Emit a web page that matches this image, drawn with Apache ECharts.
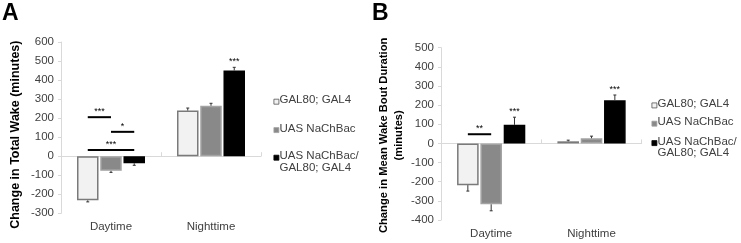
<!DOCTYPE html>
<html>
<head>
<meta charset="utf-8">
<style>
  html, body { margin: 0; padding: 0; background: #fff; }
  #chart { width: 741px; height: 243px; }
</style>
<script src="https://cdn.jsdelivr.net/npm/echarts@6/dist/echarts.min.js"></script>
</head>
<body>
<div id="chart"></div>
<script>
// categories and series
var categories = ['Daytime', 'Nighttime'];
var seriesNames = ['GAL80; GAL4', 'UAS NaChBac', 'UAS NaChBac/\nGAL80; GAL4'];

// A: change in total wake (minutes)
var wakeGal = [-232, 240];
var wakeNa = [-77, 265];
var wakeBoth = [-37, 450];
var wakeGalErr = [8, 13];
var wakeNaErr = [8, 13];
var wakeBothErr = [11, 17];
var wakeStars = [['', ''], ['', ''], ['', '***']];
// significance brackets on Daytime (bar index from/to, height, label)
var wakeSigFrom = [0, 1, 0];
var wakeSigTo = [1, 2, 2];
var wakeSigY = [205, 128, 32];
var wakeSigText = ['***', '*', '***'];

// B: change in mean wake bout duration (minutes)
var boutGal = [-218, 11];
var boutNa = [-318, 27];
var boutBoth = [97, 226];
var boutGalErr = [31, 6];
var boutNaErr = [34, 11];
var boutBothErr = [40, 27];
var boutStars = [['', ''], ['', ''], ['***', '***']];
var boutSigFrom = [0];
var boutSigTo = [1];
var boutSigY = [48];
var boutSigText = ['**'];

var fills = ['#f2f2f2', '#898989', '#000000'];
var borders = ['#7a7a7a', '#a3a3a3', '#000000'];

// bar layout, as fraction of the category band
var CAT_GAP = 0.32, BAR_GAP = 0.08;
var barW = (1 - CAT_GAP) / (3 + 2 * BAR_GAP);
var step = barW * (1 + BAR_GAP);
function offsetOf(i) { return (i - 1) * step; }

function errData(vals, errs, stars) {
  var out = [];
  vals.forEach(function (v, s) {
    v.forEach(function (val, c) {
      out.push([c, val, errs[s][c], s, stars[s][c]]);
    });
  });
  return out;
}

function makeErrRender(rows) {
  return function (params, api) {
    var band = api.size([1, 0])[0];
    var c = api.value(0), v = api.value(1), e = api.value(2), s = api.value(3);
    var star = rows[params.dataIndex][4];
    var sign = v < 0 ? -1 : 1;
    var p0 = api.coord([c, v]);
    var p1 = api.coord([c, v + sign * e]);
    var x = p0[0] + band * offsetOf(s);
    var kids = [
      { type: 'line', shape: { x1: x, y1: p0[1], x2: x, y2: p1[1] }, style: { stroke: '#333', lineWidth: 1 } },
      { type: 'line', shape: { x1: x - 1.5, y1: p1[1], x2: x + 1.5, y2: p1[1] }, style: { stroke: '#333', lineWidth: 1 } }
    ];
    if (star) {
      kids.push({ type: 'text', style: { text: star, x: x, y: p1[1] - 1, align: 'center', verticalAlign: 'bottom', fontSize: 9, fontFamily: 'Liberation Sans', fill: '#000' } });
    }
    return { type: 'group', children: kids };
  };
}

function sigData(from, to, ys) {
  return ys.map(function (y, i) { return [0, y, from[i], to[i]]; });
}

function makeSigRender(texts) {
  return function (params, api) {
    var band = api.size([1, 0])[0];
    var p = api.coord([api.value(0), api.value(1)]);
    var x1 = p[0] + band * offsetOf(api.value(2));
    var x2 = p[0] + band * offsetOf(api.value(3));
    return {
      type: 'group',
      children: [
        { type: 'line', shape: { x1: x1, y1: p[1], x2: x2, y2: p[1] }, style: { stroke: '#000', lineWidth: 2 } },
        { type: 'text', style: { text: texts[params.dataIndex], x: (x1 + x2) / 2, y: p[1] - 1, align: 'center', verticalAlign: 'bottom', fontSize: 9, fontFamily: 'Liberation Sans', fill: '#000' } }
      ]
    };
  };
}

var font = 'Liberation Sans';
var tickColor = '#404040';
var axisGray = '#d9d9d9';

function labelAxis(grid) {
  return {
    type: 'category', gridIndex: grid, data: categories,
    axisLine: { show: false, onZero: false }, axisTick: { show: false },
    axisLabel: { fontSize: 11.5, color: tickColor, fontFamily: font, margin: 8 }
  };
}
function zeroAxis(grid) {
  return {
    type: 'category', gridIndex: grid, data: categories,
    axisLine: { show: true, onZero: true, lineStyle: { color: axisGray, width: 1 } },
    axisTick: { show: true, length: 4, lineStyle: { color: axisGray } },
    axisLabel: { show: false }
  };
}
function valueAxis(grid, min, max, name, gap, size, shift) {
  return {
    type: 'value', gridIndex: grid, min: min, max: max, interval: 100,
    axisLine: { show: true, lineStyle: { color: axisGray } },
    axisTick: { show: true, length: 3, lineStyle: { color: axisGray } },
    splitLine: { show: false },
    axisLabel: { fontSize: 11.5, color: tickColor, fontFamily: font, margin: 7 },
    name: name, nameLocation: 'middle', nameRotate: 90, nameGap: gap,
    nameTextStyle: { fontSize: size, fontWeight: 'bold', color: '#000', fontFamily: font, lineHeight: 15.5, padding: [0, shift, 0, 0] }
  };
}

function bars(vals, xi, yi) {
  return vals.map(function (v, i) {
    return {
      name: seriesNames[i], type: 'bar', xAxisIndex: xi, yAxisIndex: yi, data: v,
      barCategoryGap: (CAT_GAP * 100) + '%', barGap: (BAR_GAP * 100) + '%',
      itemStyle: { color: fills[i], borderColor: borders[i], borderWidth: 1.5 },
      emphasis: { disabled: true }
    };
  });
}

// legend drawn as graphic: square aligned with the first text line
function legendGraphic(left, tops) {
  var els = [];
  seriesNames.forEach(function (n, i) {
    els.push({ type: 'rect', left: left, top: tops[i] - 2.5, shape: { width: 5, height: 5 },
      style: { fill: fills[i], stroke: i === 0 ? '#555' : borders[i], lineWidth: 0.8 } });
    els.push({ type: 'text', left: left + 6, top: tops[i] - 7,
      style: { text: n, fontSize: 11.5, lineHeight: 11.5, fill: '#404040', fontFamily: font } });
  });
  return els;
}

var wakeVals = [wakeGal, wakeNa, wakeBoth];
var wakeErrs = [wakeGalErr, wakeNaErr, wakeBothErr];
var boutVals = [boutGal, boutNa, boutBoth];
var boutErrs = [boutGalErr, boutNaErr, boutBothErr];

var wakeErrData = errData(wakeVals, wakeErrs, wakeStars);
var boutErrData = errData(boutVals, boutErrs, boutStars);

var chart = echarts.init(document.getElementById('chart'));
chart.setOption({
  animation: false,
  title: [
    { text: 'A', left: 2, top: 2, padding: 0, textStyle: { fontSize: 23, fontWeight: 'bold', color: '#000', fontFamily: font } },
    { text: 'B', left: 372, top: 2, padding: 0, textStyle: { fontSize: 23, fontWeight: 'bold', color: '#000', fontFamily: font } }
  ],
  graphic: legendGraphic(273.5, [101.3, 129.7, 157.3]).concat(legendGraphic(651.5, [105, 123.3, 142.7])),
  grid: [
    { left: 61, top: 42, width: 200, height: 171.3 },
    { left: 441, top: 47.7, width: 200.7, height: 172.3 }
  ],
  xAxis: [labelAxis(0), zeroAxis(0), labelAxis(1), zeroAxis(1)],
  yAxis: [
    valueAxis(0, -300, 600, 'Change in Total Wake (minutes)', 38, 12.5, 14),
    valueAxis(1, -400, 500, 'Change in Mean Wake Bout Duration\n(minutes)', 34, 11.2, 3)
  ],
  series: bars(wakeVals, 0, 0).concat(bars(boutVals, 2, 1)).concat([
    { type: 'custom', xAxisIndex: 0, yAxisIndex: 0, data: wakeErrData, z: 5, renderItem: makeErrRender(wakeErrData) },
    { type: 'custom', xAxisIndex: 2, yAxisIndex: 1, data: boutErrData, z: 5, renderItem: makeErrRender(boutErrData) },
    { type: 'custom', xAxisIndex: 0, yAxisIndex: 0, data: sigData(wakeSigFrom, wakeSigTo, wakeSigY), z: 5, renderItem: makeSigRender(wakeSigText) },
    { type: 'custom', xAxisIndex: 2, yAxisIndex: 1, data: sigData(boutSigFrom, boutSigTo, boutSigY), z: 5, renderItem: makeSigRender(boutSigText) }
  ])
});
</script>
</body>
</html>
